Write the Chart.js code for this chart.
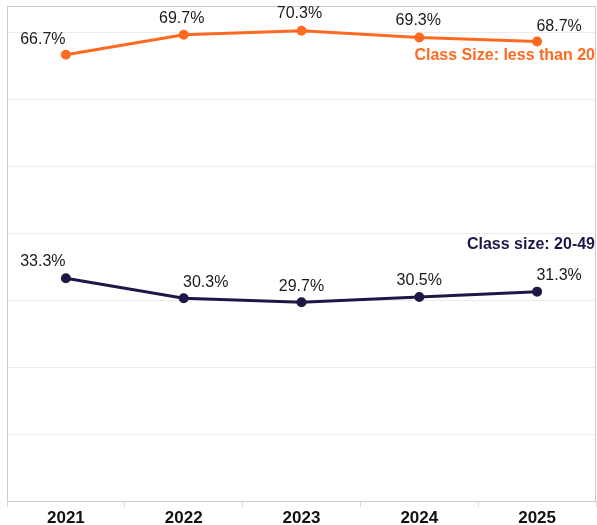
<!DOCTYPE html>
<html>
<head>
<meta charset="utf-8">
<script src="https://cdn.jsdelivr.net/npm/chart.js@4"></script>
<style>
    html, body { margin: 0; padding: 0; background: #fff; }
    #wrap { width: 597px; height: 525px; position: relative; }
</style>
</head>
<body>
<div id="wrap"><canvas id="chart"></canvas></div>
<script>
// Data
const years = ['2021', '2022', '2023', '2024', '2025'];
const under20 = [66.7, 69.7, 70.3, 69.3, 68.7];
const size20to49 = [33.3, 30.3, 29.7, 30.5, 31.3];
const seriesNames = ['Class Size: less than 20', 'Class size: 20-49'];

const orange = '#FF6A21';
const navy = '#1F1847';

// label nudges (px) relative to each point, per dataset
const labelShift = [
    [[-23, -15], [-2, -16], [-2, -17], [-1, -17], [22, -15]],
    [[-23, -17], [22, -16], [0, -16], [0, -16], [22, -16]]
];
// series name offset from the last point (y only, right aligned)
const nameShift = [14, -47];

// Draw value labels, series names and the plot frame
const labelsPlugin = {
    id: 'labels',
    afterDatasetsDraw(chart) {
        const ctx = chart.ctx;
        const area = chart.chartArea;

        ctx.save();
        ctx.strokeStyle = '#cccccc';
        ctx.lineWidth = 1;
        ctx.strokeRect(area.left + 0.5, area.top + 0.5, area.right - area.left - 1, area.bottom - area.top);

        ctx.textAlign = 'center';
        ctx.textBaseline = 'middle';
        ctx.font = '16px "Liberation Sans", Arial, sans-serif';
        ctx.fillStyle = '#1a1a1a';
        chart.data.datasets.forEach((ds, i) => {
            chart.getDatasetMeta(i).data.forEach((pt, j) => {
                const s = labelShift[i][j];
                ctx.fillText(ds.data[j].toFixed(1) + '%', pt.x + s[0], pt.y + s[1]);
            });
        });

        ctx.textAlign = 'right';
        ctx.font = 'bold 16px "Liberation Sans", Arial, sans-serif';
        chart.data.datasets.forEach((ds, i) => {
            const pts = chart.getDatasetMeta(i).data;
            const last = pts[pts.length - 1];
            ctx.fillStyle = ds.borderColor;
            ctx.fillText(seriesNames[i], area.right - 1, last.y + nameShift[i]);
        });
        ctx.restore();
    }
};

new Chart(document.getElementById('chart'), {
    type: 'line',
    data: {
        labels: years,
        datasets: [{
            label: seriesNames[0],
            data: under20,
            borderColor: orange,
            backgroundColor: orange,
            borderWidth: 3,
            pointRadius: 3.5,
            pointBackgroundColor: orange,
            tension: 0
        }, {
            label: seriesNames[1],
            data: size20to49,
            borderColor: navy,
            backgroundColor: navy,
            borderWidth: 3,
            pointRadius: 3.5,
            pointBackgroundColor: navy,
            tension: 0
        }]
    },
    options: {
        responsive: true,
        maintainAspectRatio: false,
        animation: false,
        layout: {
            autoPadding: false,
            padding: { left: 7, top: 6, right: 1, bottom: -5 }
        },
        plugins: {
            legend: { display: false },
            tooltip: { enabled: false }
        },
        scales: {
            y: {
                min: 0,
                max: 74,
                ticks: { display: false, stepSize: 10 },
                grid: { color: '#ececec', drawTicks: false },
                border: { display: false }
            },
            x: {
                offset: true,
                grid: {
                    offset: true,
                    drawOnChartArea: false,
                    drawTicks: true,
                    tickLength: 6,
                    color: '#dddddd'
                },
                border: { display: false },
                ticks: {
                    color: '#111111',
                    padding: 3,
                    font: { family: '"Liberation Sans", Arial, sans-serif', size: 17, weight: 'bold', lineHeight: 1 }
                }
            }
        }
    },
    plugins: [labelsPlugin]
});
</script>
</body>
</html>
